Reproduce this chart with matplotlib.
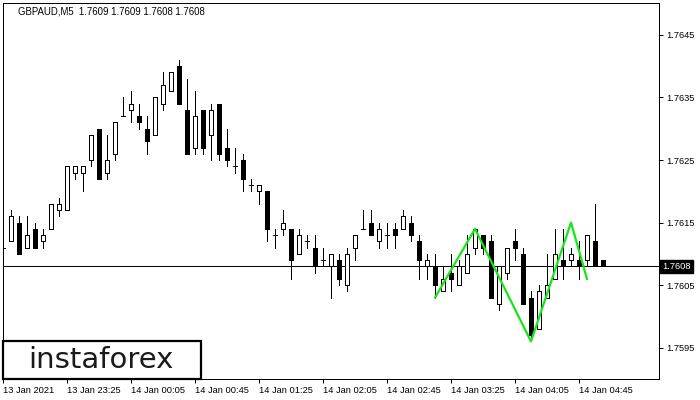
import matplotlib
matplotlib.use("Agg")
import matplotlib.pyplot as plt
from matplotlib.patches import Rectangle

# GBPAUD M5 candles, 13 Jan 22:45 .. 14 Jan 05:00
opens = [1.7611, 1.7612, 1.7615, 1.7611, 1.7614, 1.7612, 1.7614, 1.7617, 1.7617, 1.7623,
         1.7623, 1.7625, 1.7630, 1.7623, 1.7626, 1.7632, 1.7633, 1.7632, 1.7630, 1.7629,
         1.7634, 1.7636, 1.7640, 1.7633, 1.7627, 1.7633, 1.7629, 1.7634, 1.7627, 1.7624,
         1.7625, 1.7621, 1.7620, 1.7620, 1.7613, 1.7614, 1.7614, 1.7610, 1.7612, 1.7611,
         1.7609, 1.7608, 1.7609, 1.7605, 1.7611, 1.7614, 1.7615, 1.7612, 1.7613, 1.7614,
         1.7614, 1.7615, 1.7612, 1.7608, 1.7608, 1.7604, 1.7607, 1.7605, 1.7607, 1.7611,
         1.7613, 1.7612, 1.7602, 1.7607, 1.7612, 1.7610, 1.7603, 1.7598, 1.7603, 1.7606,
         1.7609, 1.7609, 1.7609, 1.7609, 1.7612, 1.7609]
highs = [1.7612, 1.7617, 1.7616, 1.7616, 1.7615, 1.7614, 1.7618, 1.7619, 1.7624, 1.7624,
         1.7624, 1.7629, 1.7630, 1.7629, 1.7631, 1.7635, 1.7636, 1.7634, 1.7632, 1.7635,
         1.7639, 1.7639, 1.7641, 1.7638, 1.7636, 1.7633, 1.7634, 1.7634, 1.7630, 1.7627,
         1.7626, 1.7622, 1.7621, 1.7620, 1.7614, 1.7617, 1.7614, 1.7614, 1.7613, 1.7613,
         1.7611, 1.7610, 1.7610, 1.7611, 1.7613, 1.7617, 1.7617, 1.7615, 1.7615, 1.7615,
         1.7617, 1.7616, 1.7613, 1.7610, 1.7610, 1.7608, 1.7610, 1.7609, 1.7613, 1.7614,
         1.7613, 1.7613, 1.7608, 1.7611, 1.7614, 1.7611, 1.7604, 1.7605, 1.7610, 1.7614,
         1.7614, 1.7611, 1.7612, 1.7613, 1.7618, 1.7609]
lows = [1.7608, 1.7612, 1.7610, 1.7611, 1.7611, 1.7611, 1.7614, 1.7616, 1.7617, 1.7622,
        1.7620, 1.7624, 1.7622, 1.7622, 1.7625, 1.7632, 1.7631, 1.7630, 1.7626, 1.7629,
        1.7633, 1.7636, 1.7634, 1.7626, 1.7626, 1.7626, 1.7625, 1.7625, 1.7624, 1.7623,
        1.7620, 1.7620, 1.7618, 1.7612, 1.7611, 1.7613, 1.7606, 1.7610, 1.7611, 1.7607,
        1.7608, 1.7603, 1.7605, 1.7604, 1.7609, 1.7614, 1.7613, 1.7611, 1.7611, 1.7611,
        1.7614, 1.7612, 1.7606, 1.7606, 1.7603, 1.7604, 1.7604, 1.7605, 1.7607, 1.7610,
        1.7610, 1.7603, 1.7601, 1.7606, 1.7609, 1.7602, 1.7596, 1.7598, 1.7603, 1.7606,
        1.7606, 1.7608, 1.7606, 1.7608, 1.7608, 1.7608]
closes = [1.7611, 1.7616, 1.7610, 1.7613, 1.7611, 1.7613, 1.7618, 1.7618, 1.7624, 1.7624,
          1.7624, 1.7629, 1.7622, 1.7625, 1.7631, 1.7632, 1.7634, 1.7631, 1.7628, 1.7635,
          1.7637, 1.7639, 1.7634, 1.7626, 1.7632, 1.7627, 1.7633, 1.7626, 1.7625, 1.7624,
          1.7622, 1.7621, 1.7621, 1.7614, 1.7613, 1.7615, 1.7609, 1.7613, 1.7612, 1.7608,
          1.7609, 1.7610, 1.7606, 1.7610, 1.7613, 1.7614, 1.7613, 1.7614, 1.7613, 1.7613,
          1.7616, 1.7613, 1.7609, 1.7609, 1.7605, 1.7606, 1.7606, 1.7608, 1.7610, 1.7614,
          1.7611, 1.7603, 1.7608, 1.7611, 1.7611, 1.7602, 1.7597, 1.7604, 1.7605, 1.7610,
          1.7608, 1.7610, 1.7608, 1.7613, 1.7608, 1.7608]

time_labels = ["13 Jan 2021", "13 Jan 23:25", "14 Jan 00:05", "14 Jan 00:45", "14 Jan 01:25",
               "14 Jan 02:05", "14 Jan 02:45", "14 Jan 03:25", "14 Jan 04:05", "14 Jan 04:45"]
price_ticks = [1.7595, 1.7605, 1.7615, 1.7625, 1.7635, 1.7645]

# pattern zigzag drawn in green
pattern_idx = [54, 59, 66, 71, 73]
pattern_price = [1.7603, 1.7614, 1.7596, 1.7615, 1.7606]

last_price = 1.7608

plt.rcParams['font.family'] = ['Liberation Sans', 'DejaVu Sans']

fig = plt.figure(figsize=(7, 4), dpi=100)
ax = fig.add_axes([3 / 700, 21 / 400, 656 / 700, 376 / 400])

px = 0.72  # one pixel in points at 100 dpi
w = 0.62
for i in range(len(opens)):
    o, h, l, c = opens[i], highs[i], lows[i], closes[i]
    ax.vlines(i, l, h, color='black', lw=px, zorder=2, antialiased=False)
    if o == c:
        ax.hlines(o, i - w / 2, i + w / 2, color='black', lw=px, zorder=3, antialiased=False)
    else:
        face = 'white' if c > o else 'black'
        ax.add_patch(Rectangle((i - w / 2, min(o, c)), w, abs(c - o), facecolor=face,
                               edgecolor='black', lw=px, zorder=3, antialiased=False))

ax.axhline(last_price, color='black', lw=px, zorder=1, antialiased=False)
ax.plot(pattern_idx, pattern_price, color='#16e616', lw=1.6, zorder=4)

ax.set_xlim(0, 82)
ax.set_ylim(1.7590, 1.76501)

ax.set_xticks(range(0, 8 * len(time_labels), 8))
ax.set_xticklabels(time_labels, ha='left', fontsize=6.7)
ax.set_yticks(price_ticks)
ax.set_yticklabels(['%.4f' % p for p in price_ticks], fontsize=6.7)
ax.yaxis.tick_right()
ax.tick_params(axis='both', direction='out', length=3, width=px, pad=2, colors='black')

for s in ax.spines.values():
    s.set_linewidth(px)
    s.set_color('black')

# current price label on the right axis
ax.text(1.005, last_price, '%.4f' % last_price, transform=ax.get_yaxis_transform(),
        fontsize=6.7, color='white', va='center', ha='left',
        bbox=dict(boxstyle='square,pad=0.25', facecolor='black', edgecolor='black'))

fig.text(18 / 700, 1 - 11 / 400, 'GBPAUD,M5  1.7609 1.7609 1.7608 1.7608',
         fontsize=6.9, color='black', va='center', ha='left')

# instaforex logo box
fig.patches.append(Rectangle((3 / 700, 21 / 400), 198 / 700, 38 / 400, transform=fig.transFigure,
                             facecolor='white', edgecolor='black', lw=1.6, zorder=5))
fig.text(101 / 700, 1 - 360 / 400, 'instaforex', fontsize=21, color='#1a1a1a',
         ha='center', va='center', family='DejaVu Sans', zorder=6)

fig.savefig('out.png', dpi=100)
